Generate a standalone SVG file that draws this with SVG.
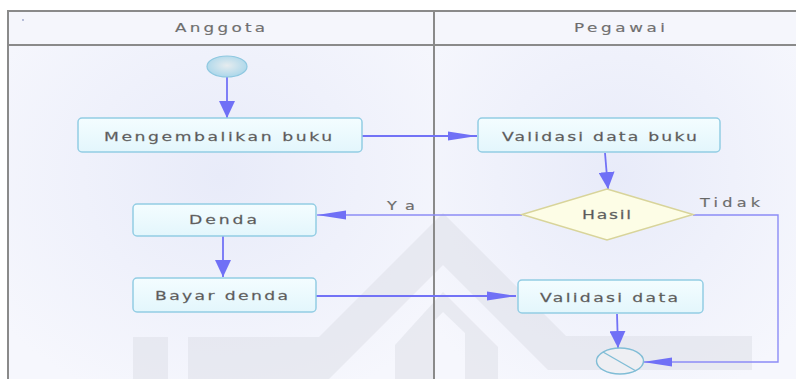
<svg xmlns="http://www.w3.org/2000/svg" width="796" height="379" viewBox="0 0 796 379">
  <style>
    .lane-line { stroke: #8a8a8a; stroke-width: 2; fill: none; }
    .lane-title { font-family: "DejaVu Sans", "Liberation Sans", sans-serif; font-size: 12px; fill: #6a6a6a; stroke: #8a8a8a; stroke-width: 0.2; }
    .label { font-family: "DejaVu Sans", "Liberation Sans", sans-serif; font-size: 12.3px; fill: #555555; stroke: #7a7a7a; stroke-width: 0.25; }
    .guard { font-family: "DejaVu Sans", "Liberation Sans", sans-serif; font-size: 11.5px; fill: #666666; stroke: #8a8a8a; stroke-width: 0.2; }
    .action { fill: url(#actionFill); stroke: #93cde4; stroke-width: 1.5; }
    .decision { fill: #fdfde6; stroke: #d8d49a; stroke-width: 1.5; }
    .flow { stroke: #7272f6; stroke-width: 1.8; fill: none; }
    .flow-light { stroke: #8c8cf6; stroke-width: 1.4; fill: none; }
    .mark { fill: #dcdde5; opacity: 0.5; }
  </style>
  <defs>
    <linearGradient id="actionFill" x1="0" y1="0" x2="0" y2="1">
      <stop offset="0" stop-color="#f4fdff"/>
      <stop offset="1" stop-color="#e3f6fc"/>
    </linearGradient>
    <radialGradient id="laneFill" cx="0.5" cy="0.45" r="0.65">
      <stop offset="0" stop-color="#e8ebf9"/>
      <stop offset="1" stop-color="#f6f7fd"/>
    </radialGradient>
    <radialGradient id="startFill" cx="0.5" cy="0.45" r="0.6">
      <stop offset="0" stop-color="#e6ecef"/>
      <stop offset="1" stop-color="#a6d5ea"/>
    </radialGradient>
    <!-- long, thin heads for horizontal flows -->
    <marker id="headH" markerUnits="userSpaceOnUse" markerWidth="30" markerHeight="10" refX="29" refY="5" orient="auto">
      <path d="M0,0.5 L29,5 L0,9.5 Z" fill="#7070f6"/>
    </marker>
    <!-- short, broad heads for vertical flows -->
    <marker id="headV" markerUnits="userSpaceOnUse" markerWidth="18" markerHeight="16" refX="17" refY="8" orient="auto">
      <path d="M0,0 L17,8 L0,16 Z" fill="#7070f6"/>
    </marker>
  </defs>

  <!-- page and swimlane background -->
  <rect x="0" y="0" width="796" height="379" fill="#ffffff"/>
  <rect x="8" y="11" width="426" height="368" fill="url(#laneFill)"/>
  <rect x="434" y="11" width="362" height="368" fill="url(#laneFill)"/>
  <rect x="8" y="11" width="788" height="34" fill="#f5f6fc"/>

  <!-- faint background emblem -->
  <g id="emblem">
    <polygon class="mark" points="133,337 168,337 168,379 133,379"/>
    <polygon class="mark" points="188,337 319,337 443,213 566,336 752,336 752,370 548,370 443,265 329,379 188,379"/>
    <polygon class="mark" points="443,292 498,347 498,379 465,379 465,333 443,312 433,322 433,379 395,379 395,345"/>
  </g>

  <!-- swimlane frame -->
  <g id="lanes">
    <path class="lane-line" d="M796,11 H8 V379"/>
    <path class="lane-line" d="M8,45 H796"/>
    <path class="lane-line" d="M434,11 V379"/>
    <circle cx="23" cy="20" r="0.9" fill="#9aa4c8"/>
    <text class="lane-title" transform="translate(175,32) scale(1.4,1)" textLength="64.3" lengthAdjust="spacing">Anggota</text>
    <text class="lane-title" transform="translate(574,32) scale(1.4,1)" textLength="65" lengthAdjust="spacing">Pegawai</text>
  </g>

  <!-- connectors -->
  <g id="connectors">
    <path class="flow" d="M227,77 V118" marker-end="url(#headV)"/>
    <path class="flow" d="M362,136 H477" marker-end="url(#headH)"/>
    <path class="flow" d="M605,153 L608,189" marker-end="url(#headV)"/>
    <path class="flow-light" d="M522,215 H317" marker-end="url(#headH)"/>
    <path class="flow-light" d="M693,215 H778 V362 H643" marker-end="url(#headH)"/>
    <path class="flow" d="M223,236 V277" marker-end="url(#headV)"/>
    <path class="flow" d="M316,296 H516" marker-end="url(#headH)"/>
    <path class="flow" d="M617,314 L618,348" marker-end="url(#headV)"/>
    <text class="guard" transform="translate(387,210) scale(1.4,1)" textLength="20" lengthAdjust="spacing">Ya</text>
    <text class="guard" transform="translate(700,207) scale(1.4,1)" textLength="42.9" lengthAdjust="spacing">Tidak</text>
  </g>

  <!-- nodes -->
  <g id="start">
    <ellipse cx="227" cy="66.5" rx="20" ry="10.5" fill="url(#startFill)" stroke="#8fc8e0" stroke-width="1.2"/>
  </g>
  <g id="mengembalikan-buku">
    <rect class="action" x="78" y="118" width="284" height="34" rx="4"/>
    <text class="label" transform="translate(104,141) scale(1.4,1)" textLength="162.9" lengthAdjust="spacing">Mengembalikan buku</text>
  </g>
  <g id="validasi-data-buku">
    <rect class="action" x="478" y="118" width="242" height="34" rx="4"/>
    <text class="label" transform="translate(502,141) scale(1.4,1)" textLength="139.3" lengthAdjust="spacing">Validasi data buku</text>
  </g>
  <g id="hasil">
    <polygon class="decision" points="607,189 693,214.5 607,240 522,214.5"/>
    <text class="label" transform="translate(582,219) scale(1.4,1)" textLength="35" lengthAdjust="spacing">Hasil</text>
  </g>
  <g id="denda">
    <rect class="action" x="133" y="204" width="183" height="32" rx="4"/>
    <text class="label" transform="translate(189,224) scale(1.4,1)" textLength="48.6" lengthAdjust="spacing">Denda</text>
  </g>
  <g id="bayar-denda">
    <rect class="action" x="133" y="278" width="183" height="34" rx="4"/>
    <text class="label" transform="translate(155,300) scale(1.4,1)" textLength="95" lengthAdjust="spacing">Bayar denda</text>
  </g>
  <g id="validasi-data">
    <rect class="action" x="518" y="280" width="185" height="33" rx="4"/>
    <text class="label" transform="translate(540,301.5) scale(1.4,1)" textLength="98.6" lengthAdjust="spacing">Validasi data</text>
  </g>
  <g id="end">
    <ellipse cx="620" cy="361" rx="23.5" ry="13" fill="#eef0f3" fill-opacity="0.85" stroke="#80bdd6" stroke-width="1.4"/>
    <line x1="603" y1="352" x2="636" y2="371" stroke="#80bdd6" stroke-width="1.4"/>
  </g>
</svg>
